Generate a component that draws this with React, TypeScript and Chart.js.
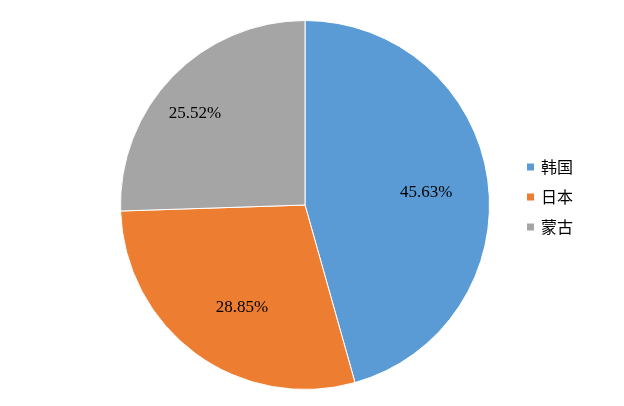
import React, { useEffect, useRef } from "react";
import { Chart, registerables } from "chart.js";

Chart.register(...registerables);

const categories = ["韩国", "日本", "蒙古"];
const values = [45.63, 28.85, 25.52];
const colors = ["#5B9BD5", "#ED7D31", "#A5A5A5"];
const labelRadius = [0.66, 0.65, 0.777];
const labelAngleShift = [2.2, -4.5, -4.2];

const labelPlugin = {
  id: "pctLabels",
  afterDatasetsDraw(chart: any) {
    const ctx = chart.ctx;
    const meta = chart.getDatasetMeta(0);
    const total = values.reduce((a, b) => a + b, 0);
    ctx.save();
    ctx.font = '17px "Liberation Serif", "Times New Roman", serif';
    ctx.fillStyle = "#000";
    ctx.textAlign = "center";
    ctx.textBaseline = "middle";
    meta.data.forEach((arc: any, i: number) => {
      const mid = (arc.startAngle + arc.endAngle) / 2 + (labelAngleShift[i] * Math.PI) / 180;
      const r = arc.outerRadius * labelRadius[i];
      const x = arc.x + Math.cos(mid) * r;
      const y = arc.y + Math.sin(mid) * r;
      ctx.fillText(((values[i] / total) * 100).toFixed(2) + "%", x, y);
    });
    ctx.restore();
  },
};

const legendPlugin = {
  id: "sideLegend",
  afterDraw(chart: any) {
    const ctx = chart.ctx;
    const x0 = 527;
    const y0 = 167;
    const gap = 30;
    ctx.save();
    ctx.font = '16px "Noto Sans CJK SC", sans-serif';
    ctx.textBaseline = "middle";
    ctx.textAlign = "left";
    categories.forEach((c, i) => {
      const y = y0 + i * gap;
      ctx.fillStyle = colors[i];
      ctx.fillRect(x0, y - 3.5, 7, 7);
      ctx.fillStyle = "#000";
      ctx.fillText(c, x0 + 14, y);
    });
    ctx.restore();
  },
};

export default function App() {
  const ref = useRef<HTMLCanvasElement>(null);
  useEffect(() => {
    if (!ref.current) return;
    const chart = new Chart(ref.current, {
      type: "pie",
      data: {
        labels: categories,
        datasets: [
          {
            data: values,
            backgroundColor: colors,
            borderColor: "#ffffff",
            borderWidth: 1,
          },
        ],
      },
      options: {
        responsive: false,
        animation: false,
        layout: { padding: { left: 120, right: 134, top: 20, bottom: 16 } },
        plugins: {
          legend: { display: false },
          tooltip: { enabled: false },
        },
      },
      plugins: [labelPlugin, legendPlugin],
    });
    return () => chart.destroy();
  }, []);
  return (
    <div style={{ position: "fixed", left: 0, top: 0, width: 624, height: 406, background: "#fff" }}>
      <canvas ref={ref} width={624} height={406} />
    </div>
  );
}
